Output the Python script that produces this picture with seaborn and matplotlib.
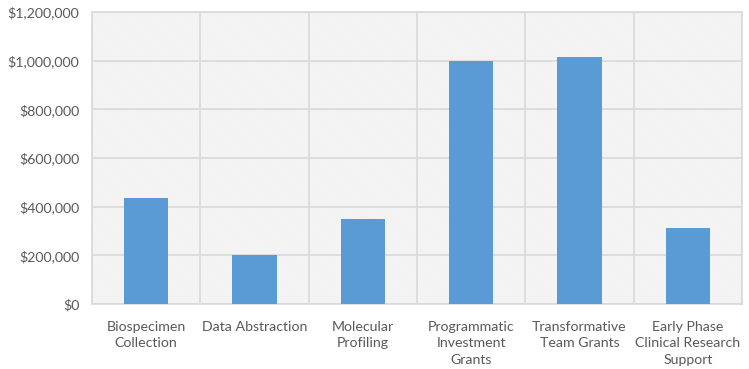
import matplotlib
matplotlib.use("Agg")
import matplotlib.pyplot as plt
import seaborn as sns
import pandas as pd
from matplotlib.patches import Rectangle
from matplotlib.ticker import FuncFormatter, FixedLocator

categories = ["Biospecimen\nCollection", "Data Abstraction", "Molecular\nProfiling",
              "Programmatic\nInvestment\nGrants", "Transformative\nTeam Grants",
              "Early Phase\nClinical Research\nSupport"]
values = [435000, 201000, 349000, 999000, 1015000, 312000]
yticks = [0, 200000, 400000, 600000, 800000, 1000000, 1200000]

sns.set_theme(style="white")
plt.rcParams['font.family'] = ['Lato', 'DejaVu Sans']
plt.rcParams['hatch.linewidth'] = 0.35

df = pd.DataFrame({"cat": categories, "val": values})

fig = plt.figure(figsize=(7.49, 3.69), dpi=100)
ax = fig.add_axes([0.1228, 0.1762, 0.9907 - 0.1228, 0.9675 - 0.1762])

grid_c = "#D9D9D9"
bg = Rectangle((0, 0), 1, 1, transform=ax.transAxes, facecolor="white",
               edgecolor="#E8E8E8", hatch="\\" * 24, linewidth=0, zorder=0)
ax.add_patch(bg)

sns.barplot(data=df, x="cat", y="val", color="#5B9BD5", width=0.41,
            saturation=1, linewidth=0, ax=ax, zorder=3)

ax.set_ylim(0, 1200000)
ax.set_xlim(-0.5, len(categories) - 0.5)
ax.set_yticks(yticks)
ax.yaxis.set_major_formatter(FuncFormatter(lambda v, p: "${:,.0f}".format(v)))
ax.xaxis.set_minor_locator(FixedLocator([i - 0.5 for i in range(len(categories) + 1)]))
ax.grid(axis="y", which="major", color=grid_c, linewidth=1.2, zorder=1)
ax.grid(axis="x", which="minor", color=grid_c, linewidth=1.2, zorder=1)
ax.grid(axis="x", which="major", visible=False)
ax.set_axisbelow(True)
ax.set_xlabel("")
ax.set_ylabel("")
for s in ax.spines.values():
    s.set_color(grid_c)
    s.set_linewidth(1.2)
ax.tick_params(axis="both", which="both", length=0, labelsize=10.2, labelcolor="#595959")
ax.tick_params(axis="x", pad=12)
ax.tick_params(axis="y", pad=9)
for lbl in ax.get_xticklabels():
    lbl.set_linespacing(1.45)

fig.savefig("out.png", dpi=100)
